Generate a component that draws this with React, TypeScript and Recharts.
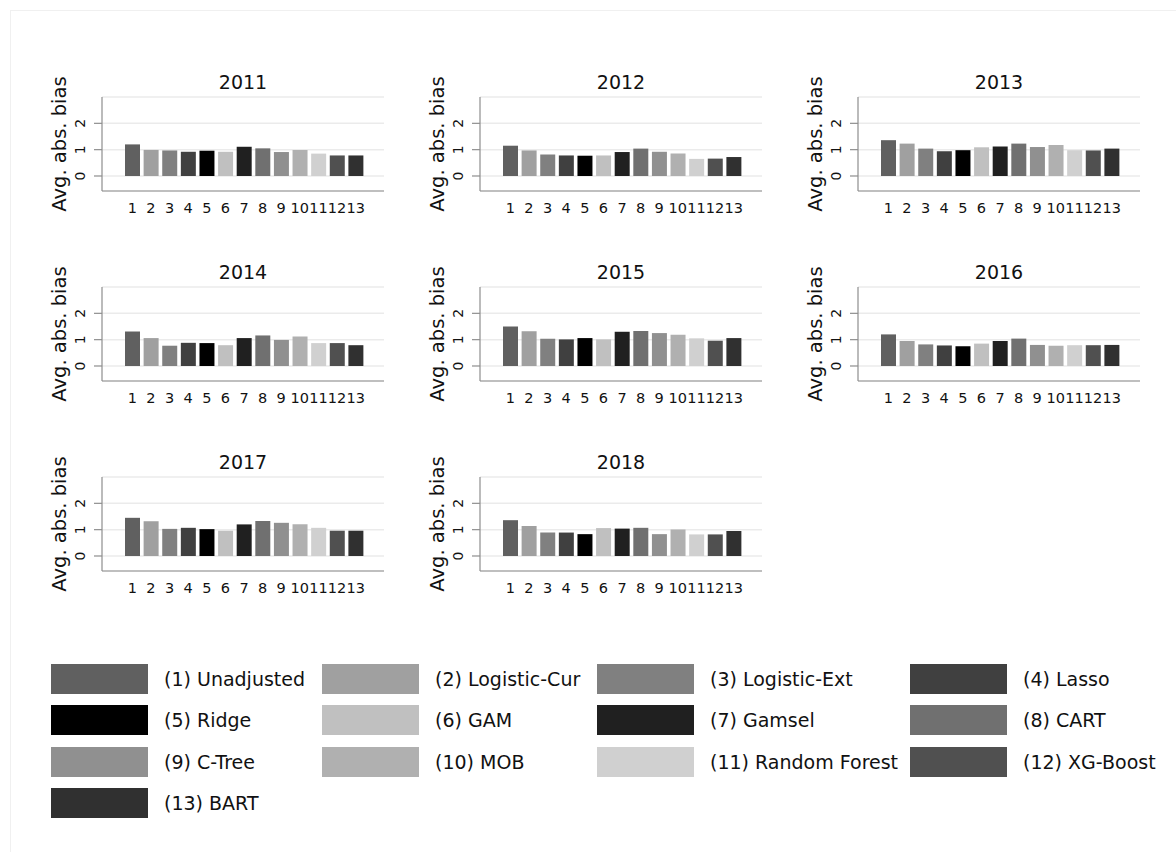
import React from 'react';
import { Bar, BarChart, CartesianGrid, Cell, XAxis, YAxis } from 'recharts';

// estimation methods, in plotting order
const methods = [
  'Unadjusted', 'Logistic-Cur', 'Logistic-Ext', 'Lasso', 'Ridge', 'GAM', 'Gamsel',
  'CART', 'C-Tree', 'MOB', 'Random Forest', 'XG-Boost', 'BART',
];
const methodIds = ['1', '2', '3', '4', '5', '6', '7', '8', '9', '10', '11', '12', '13'];
const years = ['2011', '2012', '2013', '2014', '2015', '2016', '2017', '2018'];

// average absolute bias per method, one array per year
const bias2011 = [1.2, 0.99, 0.97, 0.92, 0.96, 0.92, 1.11, 1.05, 0.91, 0.99, 0.85, 0.78, 0.78];
const bias2012 = [1.15, 0.97, 0.82, 0.78, 0.77, 0.78, 0.91, 1.04, 0.92, 0.85, 0.65, 0.66, 0.72];
const bias2013 = [1.36, 1.23, 1.04, 0.94, 0.98, 1.09, 1.12, 1.23, 1.1, 1.18, 0.98, 0.97, 1.04];
const bias2014 = [1.31, 1.06, 0.77, 0.88, 0.87, 0.79, 1.06, 1.16, 0.99, 1.12, 0.87, 0.87, 0.79];
const bias2015 = [1.5, 1.32, 1.03, 1.01, 1.06, 1.01, 1.3, 1.33, 1.25, 1.19, 1.05, 0.96, 1.06];
const bias2016 = [1.2, 0.95, 0.82, 0.78, 0.75, 0.85, 0.95, 1.04, 0.8, 0.77, 0.79, 0.79, 0.8];
const bias2017 = [1.45, 1.32, 1.03, 1.07, 1.02, 0.96, 1.2, 1.33, 1.26, 1.21, 1.07, 0.96, 0.96];
const bias2018 = [1.36, 1.14, 0.89, 0.89, 0.83, 1.06, 1.04, 1.07, 0.83, 1.01, 0.82, 0.82, 0.95];

const biasByYear = [bias2011, bias2012, bias2013, bias2014, bias2015, bias2016, bias2017, bias2018];
const yTicks = [0, 1, 2];

// gray scale fill for each method
const shades = [
  '#606060', '#a0a0a0', '#808080', '#404040', '#000000', '#c0c0c0', '#202020',
  '#707070', '#909090', '#b0b0b0', '#d0d0d0', '#505050', '#303030',
];

const FONT = '"DejaVu Sans", Verdana, sans-serif';
const TEXT = '#111';
const AXIS = '#8e8e8e';

const PLOT_W = 282;
const PLOT_H = 94;
const Y_AXIS_W = 62;
const TOP_PAD = 37;
const X_AXIS_H = 35;

const colX = [102, 480, 858];
const rowY = [97, 287, 477];

function YTick({ x, y, payload }: any) {
  const bx = x - 9;
  return (
    <text x={bx} y={y} transform={`rotate(-90, ${bx}, ${y})`} textAnchor="middle" fontSize={14} fontFamily={FONT} fill={TEXT}>
      {payload.value}
    </text>
  );
}

function XTick({ x, y, payload }: any) {
  return (
    <text x={x} y={y + 22} textAnchor="middle" fontSize={14.5} fontFamily={FONT} fill={TEXT}>
      {payload.value}
    </text>
  );
}

function YearPanel({ year, values, axisX, plotTop }: { year: string; values: number[]; axisX: number; plotTop: number }) {
  const rows = methodIds.map((id, i) => ({ id, bias: values[i] }));
  const width = Y_AXIS_W + PLOT_W + 10;
  const height = TOP_PAD + PLOT_H + X_AXIS_H;
  return (
    <div style={{ position: 'absolute', left: axisX - Y_AXIS_W, top: plotTop - TOP_PAD, width, height }}>
      <div
        style={{
          position: 'absolute', left: Y_AXIS_W, width: PLOT_W, top: TOP_PAD - 26, height: 22, lineHeight: '22px',
          textAlign: 'center', fontFamily: FONT, fontSize: 19, color: TEXT,
        }}
      >
        {year}
      </div>
      <div
        style={{
          position: 'absolute', left: 20, top: TOP_PAD + PLOT_H / 2, transform: 'translate(-50%, -50%) rotate(-90deg)',
          whiteSpace: 'nowrap', fontFamily: FONT, fontSize: 19.5, lineHeight: 1, color: TEXT,
        }}
      >
        Avg. abs. bias
      </div>
      <BarChart width={width} height={height} data={rows} margin={{ top: TOP_PAD, right: 10, bottom: 0, left: 0 }}>
        <CartesianGrid vertical={false} stroke="#ebebeb" strokeWidth={1.5} />
        <XAxis
          dataKey="id"
          type="category"
          height={X_AXIS_H}
          interval={0}
          padding={{ left: 21, right: 19 }}
          tickLine={false}
          tickSize={0}
          tickMargin={0}
          tick={<XTick />}
          axisLine={{ stroke: AXIS, strokeWidth: 1.2 }}
        />
        <YAxis
          type="number"
          width={Y_AXIS_W}
          domain={[-0.57, 3.0]}
          ticks={yTicks}
          allowDataOverflow
          tickSize={8}
          tickMargin={0}
          tick={<YTick />}
          tickLine={{ stroke: AXIS, strokeWidth: 1.2 }}
          axisLine={{ stroke: AXIS, strokeWidth: 1.2 }}
        />
        <Bar dataKey="bias" barSize={15} isAnimationActive={false}>
          {rows.map((r, i) => (
            <Cell key={r.id} fill={shades[i]} />
          ))}
        </Bar>
      </BarChart>
    </div>
  );
}

const legendCols = [51, 322, 597, 910];
const legendRows = [664, 705, 747, 788];

function MethodLegend() {
  return (
    <>
      {methods.map((name, i) => {
        const col = i % 4;
        const row = Math.floor(i / 4);
        return (
          <div
            key={name}
            style={{
              position: 'absolute', left: legendCols[col], top: legendRows[row], height: 30,
              display: 'flex', alignItems: 'center', whiteSpace: 'nowrap',
            }}
          >
            <div style={{ width: 97, height: 30, background: shades[i] }} />
            <span style={{ marginLeft: 16, fontFamily: FONT, fontSize: 19, color: TEXT }}>
              ({methodIds[i]}) {name}
            </span>
          </div>
        );
      })}
    </>
  );
}

export default function App() {
  return (
    <div style={{ position: 'absolute', left: 0, top: 0, width: 1176, height: 852, background: '#fff', overflow: 'hidden' }}>
      <div
        style={{
          position: 'absolute', left: 10, top: 10, width: 1200, height: 900,
          borderTop: '1px solid #f0f0f0', borderLeft: '1px solid #f0f0f0',
        }}
      />
      {years.map((year, i) => (
        <YearPanel key={year} year={year} values={biasByYear[i]} axisX={colX[i % 3]} plotTop={rowY[Math.floor(i / 3)]} />
      ))}
      <MethodLegend />
    </div>
  );
}
